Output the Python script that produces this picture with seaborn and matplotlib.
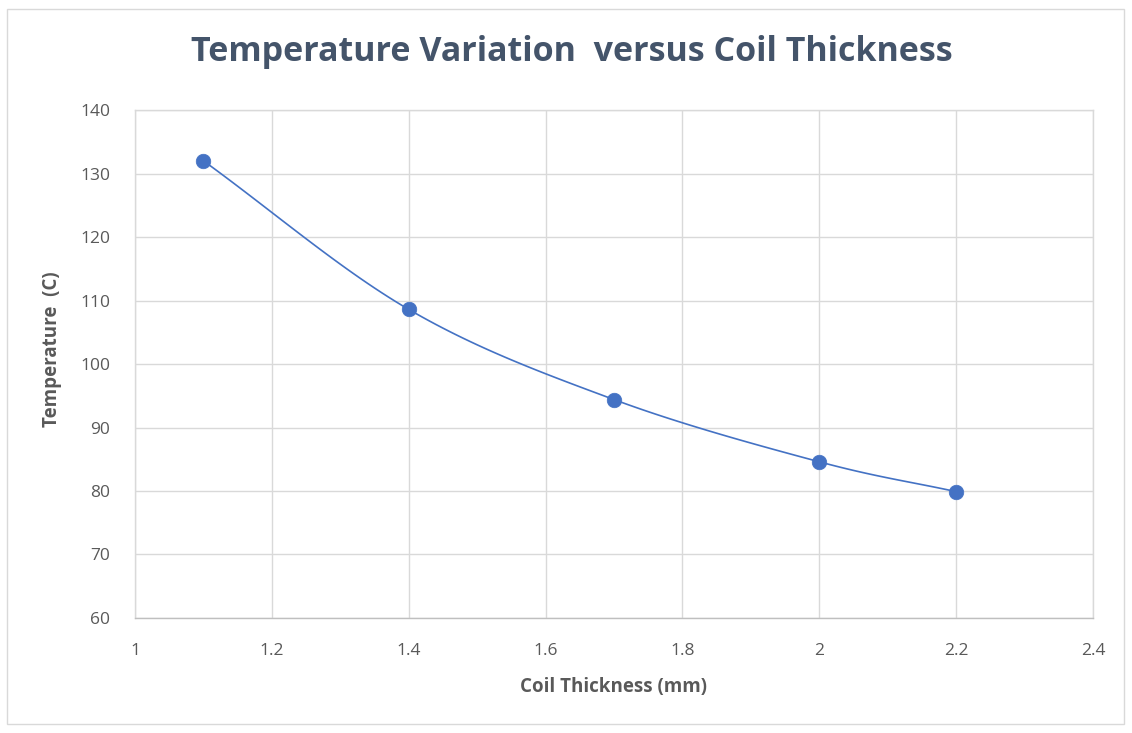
import numpy as np
import pandas as pd
import matplotlib
matplotlib.use("Agg")
import matplotlib.pyplot as plt
import seaborn as sns
from matplotlib.patches import Rectangle

# Data
thickness = [1.1, 1.4, 1.7, 2.0, 2.2]
temperature = [132.0, 108.6, 94.4, 84.6, 79.9]
x_ticks = [1, 1.2, 1.4, 1.6, 1.8, 2, 2.2, 2.4]
x_tick_labels = ["1", "1.2", "1.4", "1.6", "1.8", "2", "2.2", "2.4"]
y_ticks = [60, 70, 80, 90, 100, 110, 120, 130, 140]
title = "Temperature Variation  versus Coil Thickness"
x_label = "Coil Thickness (mm)"
y_label = "Temperature  (C)"

sns.set_theme(style="whitegrid")
plt.rcParams['font.family'] = ['Open Sans', 'DejaVu Sans']

df = pd.DataFrame({"x": thickness, "y": temperature})

# Smoothed display curve (Catmull-Rom through the data points, like a spreadsheet "smoothed line")
def catmull_rom(xs, ys, n=30):
    P = np.column_stack([xs, ys]).astype(float)
    P = np.vstack([2 * P[0] - P[1], P, 2 * P[-1] - P[-2]])
    out = []
    for i in range(1, len(P) - 2):
        p0, p1, p2, p3 = P[i - 1], P[i], P[i + 1], P[i + 2]
        t = np.linspace(0, 1, n, endpoint=(i == len(P) - 3))[:, None]
        seg = 0.5 * ((2 * p1) + (-p0 + p2) * t + (2 * p0 - 5 * p1 + 4 * p2 - p3) * t ** 2
                     + (-p0 + 3 * p1 - 3 * p2 + p3) * t ** 3)
        out.append(seg)
    out = np.vstack(out)
    return out[:, 0], out[:, 1]

sx, sy = catmull_rom(thickness, temperature)
curve = pd.DataFrame({"x": sx, "y": sy})

fig = plt.figure(figsize=(11.32, 7.33), dpi=100)
fig.patch.set_facecolor("white")
ax = fig.add_axes([0.1193, 0.1569, 0.9655 - 0.1193, 0.8499 - 0.1569])

blue = "#4472C4"
sns.lineplot(data=curve, x="x", y="y", ax=ax, color=blue, linewidth=1.2, sort=False, estimator=None)
sns.scatterplot(data=df, x="x", y="y", ax=ax, color=blue, s=110, edgecolor=blue, linewidth=0.5, zorder=5)

ax.set_xlim(1, 2.4)
ax.set_ylim(60, 140)
ax.set_xticks(x_ticks)
ax.set_xticklabels(x_tick_labels)
ax.set_yticks(y_ticks)

ax.grid(True, color="#D9D9D9", linewidth=1.0)
for s in ["left", "right", "top"]:
    ax.spines[s].set_color("#D9D9D9")
    ax.spines[s].set_linewidth(1.0)
ax.spines["bottom"].set_color("#BFBFBF")
ax.spines["bottom"].set_linewidth(1.0)

ax.tick_params(axis="both", colors="#595959", labelsize=12.5, length=0)
ax.tick_params(axis="x", pad=18)
ax.tick_params(axis="y", pad=18)

ax.set_xlabel(x_label, fontsize=13.5, fontweight="bold", color="#595959")
ax.set_ylabel(y_label, fontsize=13.5, fontweight="bold", color="#595959")
ax.xaxis.set_label_coords(0.499, -0.136)
ax.yaxis.set_label_coords(-0.087, 0.53)
ax.xaxis.label.set_va("center")
ax.yaxis.label.set_va("center")

fig.text(0.505, 0.929, title, ha="center", va="center", fontsize=24.5, fontweight="bold", color="#44546A")

fig.patches.append(Rectangle((0.006, 0.012), 0.987, 0.976, transform=fig.transFigure,
                             fill=False, edgecolor="#D9D9D9", linewidth=1.0))

fig.savefig("out.png", dpi=100, facecolor="white")
